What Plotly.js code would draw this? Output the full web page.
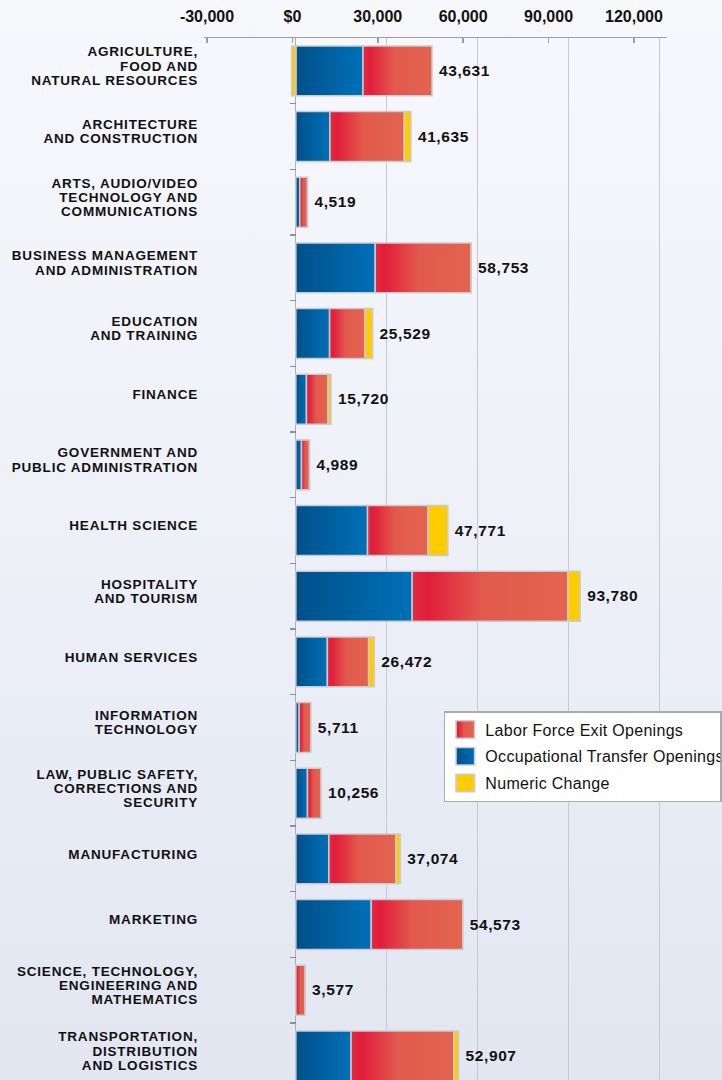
<!DOCTYPE html>
<html><head><meta charset="utf-8">
<script src="https://cdn.plot.ly/plotly-3.0.1.min.js"></script>
<style>
html,body{margin:0;padding:0;width:722px;height:1080px;overflow:hidden;
background:linear-gradient(to bottom,#f6f8fc 0%,#eef1f8 45%,#e2e6f1 100%);}
#chart{width:722px;height:1080px;}
</style></head><body><div id="chart"></div>
<script>
const categories = [
  "AGRICULTURE,<br>FOOD AND<br>NATURAL RESOURCES",
  "ARCHITECTURE<br>AND CONSTRUCTION",
  "ARTS, AUDIO/VIDEO<br>TECHNOLOGY AND<br>COMMUNICATIONS",
  "BUSINESS MANAGEMENT<br>AND ADMINISTRATION",
  "EDUCATION<br>AND TRAINING",
  "FINANCE",
  "GOVERNMENT AND<br>PUBLIC ADMINISTRATION",
  "HEALTH SCIENCE",
  "HOSPITALITY<br>AND TOURISM",
  "HUMAN SERVICES",
  "INFORMATION<br>TECHNOLOGY",
  "LAW, PUBLIC SAFETY,<br>CORRECTIONS AND<br>SECURITY",
  "MANUFACTURING",
  "MARKETING",
  "SCIENCE, TECHNOLOGY,<br>ENGINEERING AND<br>MATHEMATICS",
  "TRANSPORTATION,<br>DISTRIBUTION<br>AND LOGISTICS"
];
const occupationalTransfer = [22140, 11220, 1310, 26160, 11120, 3500, 1860, 23640, 38360, 10370, 1080, 3830, 10890, 24850, 0, 18210];
const laborForceExit       = [22760, 24530, 2520, 31620, 11670, 7100, 2620, 19950, 51340, 13640, 3830, 4480, 22140, 30180, 3050, 33910];
const numericChange        = [-1400, 2190, 0, 0, 2520, 980, 0, 6540, 4060, 1860, 0, 0, 1410, 0, 0, 1540];
const totalLabels = ["43,631","41,635","4,519","58,753","25,529","15,720","4,989","47,771","93,780","26,472","5,711","10,256","37,074","54,573","3,577","52,907"];
const tickValues = [-30000, 0, 30000, 60000, 90000, 120000];
const tickLabels = ["-30,000", "$0", "30,000", "60,000", "90,000", "120,000"];

const FONT = "Liberation Sans, Arial, Helvetica, sans-serif";
const barLine = {color: "#c9cbd0", width: 1.5};
const xRange = [-30300, 122400];
const yRange = [15.367, -0.5];
const labelX = categories.map((c, i) => occupationalTransfer[i] + laborForceExit[i] + Math.max(numericChange[i], 0));
const boundaries = categories.slice(1).map((c, i) => i + 0.5);

const traces = [
  {type: "bar", orientation: "h", name: "Occupational Transfer Openings", y: categories, x: occupationalTransfer,
   marker: {color: "#0068ad", line: barLine}, width: 0.76, legendrank: 2, legendgroup: "b", hoverinfo: "skip"},
  {type: "bar", orientation: "h", name: "Labor Force Exit Openings", y: categories, x: laborForceExit,
   marker: {color: "#e2504a", line: barLine}, width: 0.76, legendrank: 1, legendgroup: "a", hoverinfo: "skip"},
  {type: "bar", orientation: "h", name: "Numeric Change", y: categories, x: numericChange,
   marker: {color: "#ffcc00", line: barLine}, width: 0.76, legendrank: 3, legendgroup: "c", hoverinfo: "skip"},
  {type: "scatter", mode: "text", y: categories, x: labelX, text: totalLabels, textposition: "middle right",
   textfont: {family: FONT, size: 15.5, color: "#111", weight: "bold"}, showlegend: false, cliponaxis: false, hoverinfo: "skip"},
  {type: "scatter", mode: "markers", x: [], y: [], xaxis: "x2", yaxis: "y", showlegend: false, hoverinfo: "skip"},
  {type: "scatter", mode: "markers", x: [], y: [], xaxis: "x", yaxis: "y2", showlegend: false, hoverinfo: "skip"}
];

const layout = {
  width: 722, height: 1080,
  paper_bgcolor: "rgba(0,0,0,0)", plot_bgcolor: "rgba(0,0,0,0)",
  margin: {l: 204, r: 55, t: 38, b: 0},
  barmode: "relative",
  showlegend: true,
  font: {family: FONT, color: "#111"},
  xaxis: {range: xRange, tickvals: tickValues, showticklabels: false, showgrid: true,
          gridcolor: "#c6cad2", gridwidth: 1, zeroline: true, zerolinecolor: "#a9adb5", zerolinewidth: 1,
          showline: false, ticks: "", fixedrange: true},
  xaxis2: {overlaying: "x", anchor: "y", side: "top", range: [-31054, 131598], tickvals: tickValues,
           ticktext: tickLabels, showgrid: false, zeroline: false, showline: true, linecolor: "#9a9ea6",
           linewidth: 1.5, ticks: "inside", ticklen: 5, tickcolor: "#9a9ea6", tickwidth: 1.5,
           ticklabelstandoff: 8, tickfont: {family: FONT, size: 16, color: "#111", weight: "bold"}},
  yaxis: {type: "category", categoryorder: "array", categoryarray: categories, range: yRange,
          autorange: false, showgrid: false, zeroline: false, showline: false, ticks: "",
          ticklabelstandoff: 5, ticklabelshift: 5,
          tickfont: {family: FONT, size: 13.5, color: "#111", weight: "bold"}},
  yaxis2: {overlaying: "y", anchor: "free", position: (0 - xRange[0]) / (xRange[1] - xRange[0]), side: "left",
           range: yRange, autorange: false,
           tickvals: boundaries, showticklabels: false, ticks: "outside", ticklen: 6, tickcolor: "#8c9098",
           tickwidth: 1.5, showgrid: false, zeroline: false, showline: false},
  legend: {x: 0.518, xanchor: "left", y: 0.3541, yanchor: "top", bgcolor: "#ffffff", bordercolor: "#a8abb2",
           borderwidth: 1.5, font: {family: FONT, size: 16, color: "#111"}, tracegroupgap: 3}
};

Plotly.newPlot("chart", traces, layout, {staticPlot: true}).then(gd => {
  const ns = "http://www.w3.org/2000/svg";
  const svg = gd.querySelector("svg.main-svg");
  const defs = svg.querySelector("defs");
  function grad(id, stops) {
    const g = document.createElementNS(ns, "linearGradient");
    g.setAttribute("id", id);
    g.setAttribute("x1", "0"); g.setAttribute("x2", "1"); g.setAttribute("y1", "0"); g.setAttribute("y2", "0");
    stops.forEach(([o, c]) => {
      const s = document.createElementNS(ns, "stop");
      s.setAttribute("offset", o); s.setAttribute("stop-color", c); g.appendChild(s);
    });
    defs.appendChild(g);
  }
  grad("gBlue", [[0, "#00508a"], [1, "#0070b7"]]);
  grad("gRed", [[0, "#e22b3f"], [0.1, "#e11d3b"], [0.45, "#e25a4d"], [1, "#e2644f"]]);
  const fills = {0: "url(#gBlue)", 1: "url(#gRed)"};
  gd.querySelectorAll(".barlayer .trace").forEach(t => {
    const idx = t.__data__ && t.__data__[0] && t.__data__[0].trace.index;
    if (fills[idx]) t.querySelectorAll("path").forEach(p => p.style.fill = fills[idx]);
  });
  gd.querySelectorAll(".legend .traces").forEach(t => {
    const idx = t.__data__ && t.__data__[0] && t.__data__[0].trace.index;
    t.querySelectorAll(".legendpoints path").forEach(p => {
      if (fills[idx]) p.style.fill = fills[idx];
      const old = p.getAttribute("transform") || "";
      p.setAttribute("transform", old + " scale(1.55,1.45)");
      p.style.strokeWidth = "1";
    });
    t.querySelectorAll("text").forEach(tx => tx.style.letterSpacing = "0.3px");
  });
  const LS = 1.06;
  gd.querySelectorAll(".yaxislayer-above .ytick text").forEach(t => {
    t.style.letterSpacing = "0.8px";
    const lines = t.querySelectorAll("tspan.line");
    const n = lines.length;
    if (n > 1) {
      lines.forEach((ln, k) => ln.setAttribute("dy", (k * LS + (n - 1) * (1.3 - LS) / 2) + "em"));
    }
  });
  gd.querySelectorAll(".xaxislayer-above text").forEach(t => t.style.letterSpacing = "0.5px");
  gd.querySelectorAll(".scatterlayer .textpoint").forEach(g => {
    g.setAttribute("transform", "translate(7,5)");
    const tx = g.querySelector("text"); if (tx) tx.style.letterSpacing = "0.6px";
  });
});
</script></body></html>
